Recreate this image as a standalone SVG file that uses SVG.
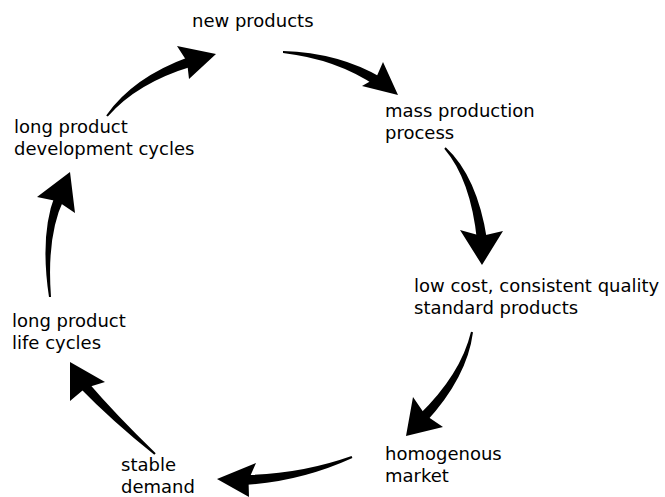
<svg xmlns="http://www.w3.org/2000/svg" width="665" height="497" viewBox="0 0 665 497">
  <style>
    .label { font-family: "DejaVu Sans", Verdana, sans-serif; font-size: 18px; fill: #000; }
    .arrow path, .arrow polygon { fill: #000; stroke: none; }
  </style>
  <rect width="665" height="497" fill="#fff"/>

  <!-- curved, tapered arrows of the cycle -->
  <g id="connectors" class="arrow">
    <!-- new products -> mass production -->
    <path d="M283,51 Q339.1,52.7 381.7,77.8 L376.3,86.2 Q336.9,59.3 283,53 Z"/>
    <polygon points="398,95 362,86 376,78 383,62"/>
    <!-- mass production -> standard products -->
    <path d="M445.7,147.3 Q477.2,176.5 487,239.4 L477,240.6 Q470.8,179.5 444.3,148.7 Z"/>
    <polygon points="482,265 460,230 481.6,236 503,231"/>
    <!-- standard products -> homogenous market -->
    <path d="M473,332.2 Q467.1,377.6 425.6,422.4 L418.4,415.6 Q460.9,374.4 471,331.8 Z"/>
    <polygon points="406,436 413,397 425.3,415 443,427"/>
    <!-- homogenous market -> stable demand -->
    <path d="M352.4,457.9 Q300.7,481.4 244.2,485 L243.8,475 Q299.3,474.6 351.6,456.1 Z"/>
    <polygon points="217,479 256,463 248.5,480 249,497"/>
    <!-- stable demand -> long product life cycles -->
    <path d="M154.3,454.8 Q111.6,420.6 79.5,387.5 L86.5,380.5 Q116.4,415.4 155.7,453.2 Z"/>
    <polygon points="70,362 105,382 85.5,388 70,401"/>
    <!-- long product life cycles -> long product development cycles -->
    <path d="M49,297.1 Q39.6,234.4 55.1,194.7 L63.9,199.3 Q46.4,235.6 51,296.9 Z"/>
    <polygon points="70,172 75,213 57.6,201.3 37,197"/>
    <!-- long product development cycles -> new products -->
    <path d="M106.2,115.4 Q133,77.1 189.5,56.7 L192.5,66.3 Q137,82.9 107.8,116.6 Z"/>
    <polygon points="216,54 189,79 187,61.5 177,46"/>
  </g>

  <g id="new-products">
    <text class="label" x="192" y="27">new products</text>
  </g>
  <g id="mass-production">
    <text class="label" x="385" y="117">mass production</text>
    <text class="label" x="385" y="139">process</text>
  </g>
  <g id="standard-products">
    <text class="label" x="414" y="292">low cost, consistent quality</text>
    <text class="label" x="414" y="314">standard products</text>
  </g>
  <g id="homogenous-market">
    <text class="label" x="385" y="460">homogenous</text>
    <text class="label" x="385" y="482">market</text>
  </g>
  <g id="stable-demand">
    <text class="label" x="121" y="471">stable</text>
    <text class="label" x="121" y="493">demand</text>
  </g>
  <g id="life-cycles">
    <text class="label" x="12" y="327">long product</text>
    <text class="label" x="12" y="349">life cycles</text>
  </g>
  <g id="development-cycles">
    <text class="label" x="14" y="133">long product</text>
    <text class="label" x="14" y="155">development cycles</text>
  </g>
</svg>
